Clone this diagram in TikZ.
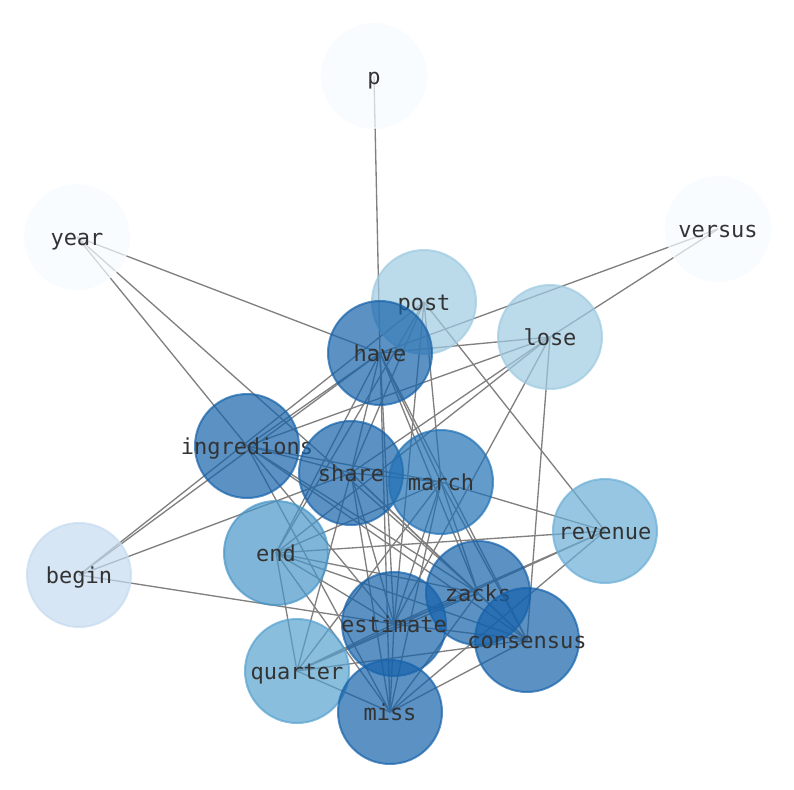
\documentclass[tikz,border=0pt]{standalone}
\usepackage{fontspec}
\setmonofont{DejaVu Sans Mono}
\usetikzlibrary{positioning}
\pgfdeclarelayer{bg}
\pgfsetlayers{bg,main}
\definecolor{wpale}{RGB}{247,251,255}
\definecolor{wbegin}{RGB}{198,219,239}
\definecolor{wlight}{RGB}{158,202,225}
\definecolor{wrev}{RGB}{107,174,214}
\definecolor{wend}{RGB}{72,150,200}
\definecolor{wquart}{RGB}{88,162,207}
\definecolor{wmarch}{RGB}{33,113,181}
\definecolor{wdark}{RGB}{22,98,170}
\tikzset{
  word/.style={circle, minimum size=78pt, inner sep=0pt, line width=1.5pt,
    fill=#1, draw=#1, fill opacity=0.7, draw opacity=0.7, text opacity=1,
    text height=14pt, text depth=1.5pt,
    text=black!80, font=\fontsize{16.5}{18}\selectfont\ttfamily},
  link/.style={draw=black!50, line width=1pt}
}
\begin{document}
\begin{tikzpicture}[x=0.75pt, y=-0.75pt]
  \useasboundingbox (0,0) rectangle (794,790);
  % Knoten
  \node[word=wpale] (p) at (374,76) {\makebox[0pt]{p}};
  \node[word=wpale] (year) at (77,237) {\makebox[0pt]{year}};
  \node[word=wpale] (versus) at (718,229) {\makebox[0pt]{versus}};
  \node[word=wlight] (post) at (424,302) {\makebox[0pt]{post}};
  \node[word=wlight] (lose) at (550,337) {\makebox[0pt]{lose}};
  \node[word=wdark] (have) at (380,353) {\makebox[0pt]{have}};
  \node[word=wdark] (ingredions) at (247,446) {\makebox[0pt]{ingredions}};
  \node[word=wdark] (share) at (351,473) {\makebox[0pt]{share}};
  \node[word=wmarch] (march) at (441,482) {\makebox[0pt]{march}};
  \node[word=wrev] (revenue) at (605,531) {\makebox[0pt]{revenue}};
  \node[word=wend] (end) at (276,553) {\makebox[0pt]{end}};
  \node[word=wbegin] (begin) at (79,575) {\makebox[0pt]{begin}};
  \node[word=wdark] (zacks) at (478,593) {\makebox[0pt]{zacks}};
  \node[word=wdark] (estimate) at (394,624) {\makebox[0pt]{estimate}};
  \node[word=wdark] (consensus) at (527,640) {\makebox[0pt]{consensus}};
  \node[word=wquart] (quarter) at (297,671) {\makebox[0pt]{quarter}};
  \node[word=wdark] (miss) at (390,712) {\makebox[0pt]{miss}};
  % Kanten (unter den Knoten)
  \begin{pgfonlayer}{bg}
    \foreach \a/\b in {p/have, year/have, year/ingredions, year/zacks,
      versus/have, versus/lose,
      post/end, post/share, post/estimate, post/march, post/revenue,
      lose/have, lose/ingredions, lose/share, lose/end, lose/estimate, lose/consensus,
      begin/have, begin/post, begin/share, begin/estimate,
      have/ingredions, have/share, have/march, have/end, have/estimate,
      have/zacks, have/consensus, have/miss,
      ingredions/share, ingredions/march, ingredions/zacks, ingredions/estimate,
      ingredions/consensus, ingredions/miss,
      share/march, share/zacks, share/estimate, share/consensus, share/miss, share/quarter,
      march/revenue, march/end, march/zacks, march/estimate, march/consensus,
      march/miss, march/quarter,
      end/revenue, end/zacks, end/estimate, end/consensus, end/miss, end/quarter,
      revenue/estimate, revenue/quarter, revenue/miss,
      zacks/estimate, zacks/consensus, zacks/miss, zacks/quarter,
      estimate/consensus, estimate/miss, estimate/quarter,
      consensus/miss, consensus/quarter, quarter/miss}
      \draw[link] (\a.center) -- (\b.center);
  \end{pgfonlayer}
\end{tikzpicture}
\end{document}
